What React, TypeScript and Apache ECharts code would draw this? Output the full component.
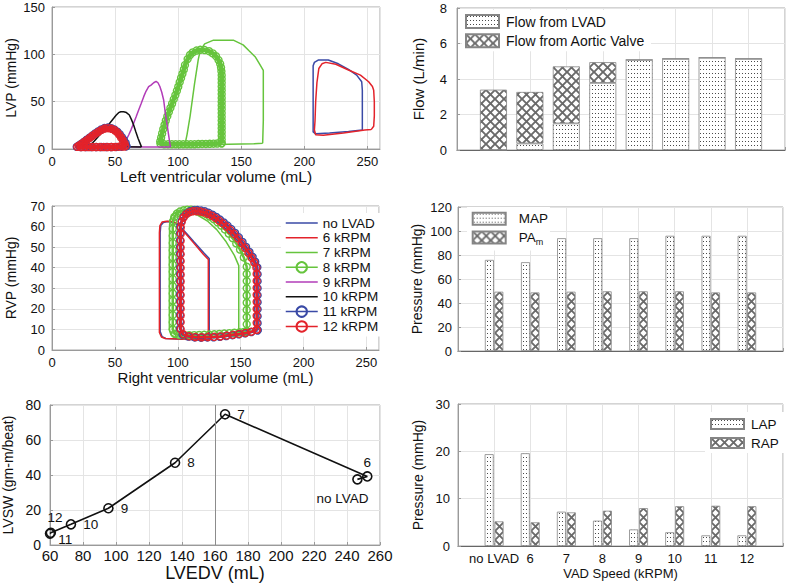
import React, { useEffect, useRef } from 'react';
import * as echarts from 'echarts';

const FONT = "'Liberation Sans', Arial, Helvetica, sans-serif";

// ---------- LV pressure-volume loops (volume mL, pressure mmHg) ----------
const lvNoLvad = [[246,20],[246,35],[246,50],[246,62],[245.5,71],[241.5,78],[235,84],[227,90],[219,94],[211,94],[208,91.5],[207,88],[207,70],[207,50],[207,30],[207,18],[209,16],[220,17],[235,18.5],[246,20]];
const lv6 = [[253,20.5],[255,24],[255.5,35],[255.5,50],[255,62],[254,66],[251,71],[244.5,78],[235,83.5],[225,89.5],[217,91.5],[214,90],[211.5,85],[210,70],[209,50],[208.5,30],[208,20],[209,15],[215,14.5],[231,17],[248,20],[253,20.5]];
const lv7 = [[167,6],[167.5,30],[167.5,60],[167.5,83],[164,91],[161,97.5],[156,104],[151.5,110],[143.7,115],[128,115],[121,111],[117.5,104],[116,95],[113,69],[109.5,35],[107,15],[105.5,5.5],[120,4.5],[140,5],[160,5.5],[167,6]];
const lv8 = [[134.5,6],[134.5,10],[134.5,14],[134.5,18],[134.5,22],[134.5,26],[134.5,30],[134.5,34],[134.5,38],[134.5,42],[134.5,46],[134.5,50],[134.5,54],[134.5,58],[134.5,62],[134.5,66],[134.5,70],[134.5,74],[134.5,78],[134.3,82],[134,86],
  [133.3,90],[132,94],[130,98],[127.5,101],[124.5,103.3],[121,104.5],[117.5,104.8],[114.5,104],[111.5,102],[109.4,99.3],[107.5,95],[105.4,88.7],
  [104.5,84],[103.4,79.5],[102.3,75],[101.2,70.5],[100.1,65.8],[99,61.5],[97.8,57],[96.5,52.5],[95.2,48],[93.9,43.5],[92.6,39],[91.4,34.5],[90.2,30],[89.2,25.5],[88.2,21],[87.3,16.5],[86.5,12],[85.8,8],[86,5.5],
  [89,5],[92,5],[95,5],[98,5],[101,5],[104,5],[107,5],[110,5],[113,5],[116,5.2],[119,5.3],[122,5.4],[125,5.5],[128,5.6],[131,5.8],[134.5,6]];
const lv9 = [[94,2],[93.2,8],[92.3,16],[91.1,27],[89.8,38],[88.5,51.8],[87,60],[85.5,66],[84,70],[82.5,71.5],[80.6,70],[78.5,67.5],[76.6,65.8],[74.5,61],[72.7,55.3],[70.7,48],[68.7,41.2],[66.7,34],[64.7,27.1],[62.7,20.5],[60.8,14.8],[58.1,7.7],[56.8,4],[60,2.5],[75,2],[94,2]];
const lv10 = [[71,2],[69.5,7],[68.2,11.3],[66.5,18],[64.7,25.4],[63,31],[61.3,35.9],[59,38.5],[56.8,39.4],[54.5,39.3],[52.8,38.4],[50.8,35.6],[48.9,32.4],[45.6,27],[42.3,21.8],[38.3,15.5],[34.3,9.5],[31.5,5.5],[30,3],[40,2.5],[55,2.5],[71,2]];
const lv11 = [[59,3],[58.4,6.5],[57,9.5],[55.4,12.6],[53.7,15.6],[51.8,18.3],[49.6,20.5],[47,22],[44.3,22.6],[41.5,22.1],[39,20.6],[36.5,18.6],[34.2,16.5],[31.9,14.2],[29.7,12],[27.5,9.8],[25.3,7.6],[23.1,5.5],[21.1,3.6],[19.6,2.3],[23,2],[27,2],[31,2],[35,2],[39,2],[43,2],[47,2.1],[51,2.2],[55,2.5],[59,3]];
const lv12 = [[58,3],[57.5,6],[56.2,9],[54.8,12],[53.3,15],[51.6,17.6],[49.6,19.8],[47.2,21.3],[44.5,22],[41.8,21.6],[39.3,20.2],[36.8,18.2],[34.5,16.2],[32.2,14],[30,11.8],[27.8,9.6],[25.6,7.4],[23.4,5.3],[21.4,3.5],[20,2.3],[23,2],[26,2],[29,2],[32,2],[35,2],[38,2],[41,2],[44,2],[47,2.1],[50,2.2],[53,2.4],[56,2.6],[58,3]];

// ---------- RV pressure-volume loops ----------
const rvNoLvad = [[125,5],[125,15],[125,30],[125,44.5],[121,47],[113,52.5],[106.5,57],[101,60.5],[97,62],[92,62.5],[88.5,62],[86.5,60.5],[86,57],[86,40],[86,20],[86,9],[87.5,6.5],[90.5,5.6],[105,5.2],[125,5]];
const rv6 = [[124.3,4.9],[124.3,15],[124.3,30],[124.3,44],[120.3,46.5],[112.4,52.2],[106,56.8],[100.4,61],[96,62.5],[91,62.6],[87.5,62.2],[85.8,60.5],[85.4,57],[85.4,40],[85.4,20],[85.4,8.5],[87,6.3],[90,5.6],[105,5.2],[124.3,4.9]];
const rv7 = [[148.5,7],[148.5,15],[148.5,25],[148.5,35],[148.5,41],[145,46],[138,53],[131,58.5],[124,62.5],[116,65.5],[108,67],[101,67.5],[97,66.5],[94.5,64.5],[93.5,61],[93.3,45],[93.3,25],[93.3,10],[94.5,7.5],[97,6.5],[110,6.3],[130,6.6],[148.5,7]];
const rv8 = [[154.8,9],[154.8,12.5],[154.8,16],[154.8,19.5],[154.8,23],[154.8,26.5],[154.8,30],[154.8,33.5],[154.8,37],[154.8,40.5],
  [152.5,45],[149.5,48.8],[146.5,51.8],[143.5,54.4],[140.5,56.6],[137.5,58.6],[134.5,60.5],[131.5,62.1],[128.5,63.6],[125.5,64.9],[122.5,66],[119.5,66.9],[116.5,67.6],[113.5,68],[110.5,68.2],[107.5,68.2],[104.5,67.9],[101.7,67.3],[99.3,66.3],[97.3,64.7],[96.2,62.5],
  [96,59],[96,55.5],[96,52],[96,48.5],[96,45],[96,41.5],[96,38],[96,34.5],[96,31],[96,27.5],[96,24],[96,20.5],[96,17],[96,13.5],[96,10],
  [97.5,7.8],[101,7.3],[105,7.2],[109,7.2],[113,7.2],[117,7.3],[121,7.4],[125,7.5],[129,7.6],[133,7.8],[137,8],[141,8.2],[145,8.4],[149,8.6],[152.5,8.8],[154.8,9]];
const rv11 = [[163.5,9.6],[163.5,13],[163.5,16.4],[163.5,19.8],[163.5,23.2],[163.5,26.6],[163.5,30],[163.5,33.4],[163.5,36.8],[163.3,40.2],
  [161.6,42.9],[159.5,45.3],[157,47.7],[154.3,50.1],[151.5,52.5],[148.6,54.8],[145.6,56.9],[142.6,58.8],[139.6,60.5],[136.6,62],[133.6,63.4],[130.6,64.7],[127.6,65.8],[124.6,66.7],[121.6,67.4],[118.6,67.8],[115.6,68],[112.6,67.9],[109.7,67.4],[107,66.4],[104.8,64.8],[103,62.7],[101.9,60],
  [101.8,56.7],[101.8,53.4],[101.8,50.1],[101.8,46.8],[101.8,43.5],[101.8,40.2],[101.8,36.9],[101.8,33.6],[101.8,30.3],[101.8,27],[101.8,23.7],[101.8,20.4],[101.8,17.1],[101.8,13.8],[101.8,10.5],
  [103.8,7.5],[108.5,6.5],[113.5,6.1],[118.5,6],[123.5,6.1],[128.5,6.2],[133.5,6.4],[138.5,6.8],[143.5,7.2],[148.5,7.6],[153.5,8.1],[158.5,8.7],[163.5,9.6]];
const rv12 = [[162.7,9.8],[162.7,13.2],[162.7,16.6],[162.7,20],[162.7,23.4],[162.7,26.8],[162.7,30.2],[162.7,33.6],[162.7,37],[162.5,40],
  [160.8,42.5],[158.7,44.8],[156.2,47.2],[153.5,49.6],[150.7,52],[147.8,54.3],[144.8,56.4],[141.8,58.3],[138.8,60],[135.8,61.5],[132.8,62.9],[129.8,64.2],[126.8,65.3],[123.8,66.2],[120.8,66.9],[117.8,67.3],[114.8,67.5],[111.8,67.4],[109,66.9],[106.5,65.9],[104.5,64.3],[103.1,62.2],[102.4,59.5],
  [102.3,56.4],[102.3,53.1],[102.3,49.8],[102.3,46.5],[102.3,43.2],[102.3,39.9],[102.3,36.6],[102.3,33.3],[102.3,30],[102.3,26.7],[102.3,23.4],[102.3,20.1],[102.3,16.8],[102.3,13.5],[102.3,10.2],
  [104.5,7.6],[109,6.7],[114,6.3],[119,6.2],[124,6.3],[129,6.4],[134,6.6],[139,7],[144,7.4],[149,7.8],[154,8.3],[158.5,8.9],[162.7,9.8]];
// 9 and 10 kRPM RV loops lie hidden beneath the 11/12 kRPM loops
const rv9 = rv12;
const rv10 = rv12;

// ---------- Bar data ----------
const speedLabels = ['no LVAD', '6', '7', '8', '9', '10', '11', '12'];
const flowLvad = [0, 0.37, 1.5, 3.78, 5.08, 5.14, 5.2, 5.14];
const flowAortic = [3.4, 2.9, 3.21, 1.17, 0, 0, 0, 0];
const mapVals = [75.9, 74, 94, 94, 94, 96, 96, 96];
const paVals = [49.4, 48.8, 49.4, 49.7, 49.7, 49.7, 48.8, 48.8];
const lapVals = [19.4, 19.6, 7.25, 5.35, 3.5, 2.9, 2.25, 2.25];
const rapVals = [5.2, 5.0, 7.1, 7.45, 8.0, 8.4, 8.5, 8.4];

// ---------- LVSW vs LVEDV ----------
const pointNames = ['no LVAD', '6', '7', '8', '9', '10', '11', '12'];
const lvedv = [246.3, 252.3, 166.1, 135.8, 95.4, 72.7, 60.5, 60];
const lvsw = [37.5, 39.2, 74.7, 47, 21, 11.8, 7, 6.5];

const loopNames = ['no LVAD', '6 kRPM', '7 kRPM', '8 kRPM', '9 kRPM', '10 kRPM', '11 kRPM', '12 kRPM'];
const loopColors = ['#3a4aa6', '#e3232b', '#66c43d', '#66c43d', '#b23cb8', '#111111', '#3a4aa6', '#e3232b'];
const loopMarkers = [false, false, false, true, false, false, true, true];
const lvLoops = [lvNoLvad, lv6, lv7, lv8, lv9, lv10, lv11, lv12];
const rvLoops = [rvNoLvad, rv6, rv7, rv8, rv9, rv10, rv11, rv12];

function dotPattern() {
  const c = document.createElement('canvas');
  c.width = 3; c.height = 4;
  const g = c.getContext('2d')!;
  g.fillStyle = '#ffffff'; g.fillRect(0, 0, 3, 4);
  g.fillStyle = '#4a4a4a'; g.fillRect(1, 1, 1, 1);
  return { image: c, repeat: 'repeat' };
}
function hatchPattern() {
  const s = 9;
  const c = document.createElement('canvas');
  c.width = s; c.height = s;
  const g = c.getContext('2d')!;
  g.fillStyle = '#ffffff'; g.fillRect(0, 0, s, s);
  g.strokeStyle = '#6a6a6a'; g.lineWidth = 1.9;
  g.beginPath();
  g.moveTo(-1, -1); g.lineTo(s + 1, s + 1);
  g.moveTo(s + 1, -1); g.lineTo(-1, s + 1);
  g.stroke();
  return { image: c, repeat: 'repeat' };
}

const AX = '#9a9a9a';
const SPLIT = '#e4e4e4';

function valueAxis(gridIndex: number, min: number, max: number, interval: number, name: string, nameGap: number, opts: any = {}) {
  return {
    type: 'value', gridIndex, min, max, interval, name, nameLocation: 'middle', nameGap,
    nameTextStyle: { fontFamily: FONT, fontSize: opts.nameSize || 14, color: '#111' },
    axisLine: { show: true, lineStyle: { color: AX } },
    axisTick: { show: true, inside: true, length: 3, lineStyle: { color: AX } },
    splitLine: { show: true, lineStyle: { color: SPLIT, width: 1 } },
    axisLabel: { fontFamily: FONT, fontSize: opts.labelSize || 13, color: '#111', margin: opts.margin ?? 6, showMaxLabel: opts.showMax ?? true },
  };
}
function catAxis(gridIndex: number, showLabels: boolean, name: string) {
  return {
    type: 'category', gridIndex, data: ['', ...speedLabels, ''], boundaryGap: false,
    name, nameLocation: 'middle', nameGap: 21,
    nameTextStyle: { fontFamily: FONT, fontSize: 13, color: '#111' },
    axisLine: { show: true, lineStyle: { color: '#666', width: 1.2 } },
    axisTick: { show: true, inside: true, length: 3, lineStyle: { color: AX } },
    splitLine: { show: true, interval: 0, lineStyle: { color: SPLIT } },
    axisLabel: { show: showLabels, interval: 0, fontFamily: FONT, fontSize: 13, color: '#111', margin: 6 },
  };
}
const pad = (a: number[]) => ['-', ...a, '-'];

export default function App() {
  const ref = useRef<HTMLDivElement>(null);
  useEffect(() => {
    if (!ref.current) return;
    const chart = echarts.init(ref.current, undefined, { renderer: 'svg' });
    const dots = dotPattern();
    const hatch = hatchPattern();
    const barBorder = { borderColor: '#858585', borderWidth: 0.8 };

    const loopSeries = (axis: number, loops: number[][][], markerLineWidth: number) =>
      loops.map((d, i) => {
        const col = loopColors[i];
        const mk = loopMarkers[i];
        return {
          type: 'line', name: loopNames[i], xAxisIndex: axis, yAxisIndex: axis, data: d,
          symbol: mk ? 'circle' : 'none', showSymbol: mk, symbolSize: 7,
          itemStyle: mk ? { color: 'rgba(255,255,255,0)', borderColor: col, borderWidth: 1.4 } : { color: col },
          lineStyle: { color: col, width: mk ? markerLineWidth : 1.5 }, silent: true, z: 3 + i * 0.01,
        };
      });

    const lvswData = lvedv.map((v, i) => {
      const lab: any = { show: true, formatter: pointNames[i], fontFamily: FONT, fontSize: 13.5, color: '#111' };
      if (pointNames[i] === 'no LVAD') { lab.position = 'bottom'; lab.offset = [-15, 2]; }
      else if (pointNames[i] === '6') { lab.position = 'top'; lab.distance = 2; }
      else if (pointNames[i] === '12') { lab.position = 'top'; lab.distance = 4; lab.offset = [5, 0]; }
      else if (pointNames[i] === '11') { lab.position = 'right'; lab.distance = 2; lab.offset = [0, 7]; }
      else { lab.position = 'right'; lab.distance = 7; }
      return { value: [v, lvsw[i]], label: lab };
    });

    const legendBase = {
      orient: 'vertical', selectedMode: false, backgroundColor: '#ffffff',
      textStyle: { fontFamily: FONT, fontSize: 14, color: '#111' },
    };

    chart.setOption({
      animation: false,
      textStyle: { fontFamily: FONT },
      grid: [
        { left: 52, top: 7, width: 328, height: 142, show: true, borderColor: '#a8a8a8', borderWidth: 1, backgroundColor: '#fff' },
        { left: 457, top: 8, width: 328, height: 142, show: true, borderColor: '#a8a8a8', borderWidth: 1, backgroundColor: '#fff' },
        { left: 52, top: 206, width: 327, height: 144, show: true, borderColor: '#a8a8a8', borderWidth: 1, backgroundColor: '#fff' },
        { left: 458, top: 207, width: 325, height: 144, show: true, borderColor: '#a8a8a8', borderWidth: 1, backgroundColor: '#fff' },
        { left: 50, top: 405, width: 330, height: 140, show: true, borderColor: '#a8a8a8', borderWidth: 1, backgroundColor: '#fff' },
        { left: 458, top: 404, width: 325, height: 142, show: true, borderColor: '#a8a8a8', borderWidth: 1, backgroundColor: '#fff' },
      ],
      xAxis: [
        valueAxis(0, 0, 260, 50, 'Left ventricular volume (mL)', 17, { showMax: false, margin: 6, nameSize: 15.5 }),
        catAxis(1, false, ''),
        valueAxis(2, 0, 260, 50, 'Right ventricular volume (mL)', 17, { showMax: false, margin: 6, nameSize: 15 }),
        catAxis(3, false, ''),
        valueAxis(4, 60, 260, 20, 'LVEDV (mL)', 19, { nameSize: 18, labelSize: 15, margin: 3 }),
        catAxis(5, true, 'VAD Speed (kRPM)'),
      ],
      yAxis: [
        valueAxis(0, 0, 150, 50, 'LVP (mmHg)', 34, { margin: 7 }),
        valueAxis(1, 0, 8, 2, 'Flow (L/min)', 31, { nameSize: 15, margin: 10 }),
        valueAxis(2, 0, 70, 10, 'RVP (mmHg)', 34, { margin: 7 }),
        valueAxis(3, 0, 120, 20, 'Pressure (mmHg)', 34, { margin: 6 }),
        valueAxis(4, 0, 80, 20, 'LVSW (gm-m/beat)', 35, { labelSize: 14, margin: 9 }),
        valueAxis(5, 0, 30, 10, 'Pressure (mmHg)', 33, { margin: 8 }),
      ],
      legend: [
        { ...legendBase, left: 462, top: 10, padding: [4, 6, 3, 3], itemWidth: 33, itemHeight: 13, itemGap: 4.3, icon: 'rect',
          textStyle: { ...legendBase.textStyle, lineHeight: 13, padding: [0, 0, 0, 2] },
          data: ['Flow from LVAD', 'Flow from Aortic Valve'] },
        { ...legendBase, left: 467, top: 207, padding: [4.7, 2, 4, 4.7], itemWidth: 33, itemHeight: 12, itemGap: 4.7, icon: 'rect',
          formatter: (n: string) => (n === 'PAm' ? 'PA{sub|m}' : n),
          textStyle: { ...legendBase.textStyle, fontSize: 13.5, lineHeight: 12, padding: [0, 0, 0, 8],
            rich: { sub: { fontSize: 9, fontFamily: FONT, color: '#111', padding: [9, 0, 0, 0] } } },
          data: ['MAP', 'PAm'] },
        { ...legendBase, left: 705, top: 412, padding: [5, 10, 3, 5], itemWidth: 33, itemHeight: 10, itemGap: 5, icon: 'rect',
          textStyle: { ...legendBase.textStyle, fontSize: 13.5, lineHeight: 10, padding: [0, 0, 0, 2] },
          data: ['LAP', 'RAP'] },
        { ...legendBase, left: 281, top: 213, padding: [3, 4, 3, 4], itemWidth: 32, itemHeight: 13, itemGap: 0.77,
          textStyle: { ...legendBase.textStyle, fontSize: 13.5, lineHeight: 14 },
          data: loopNames.map((n, i) => (loopMarkers[i]
            ? { name: n, lineStyle: { width: 1.5 } }
            : { name: n, itemStyle: { opacity: 0 }, lineStyle: { width: 1.5 } })) },
      ],
      series: [
        ...loopSeries(0, lvLoops, 4.5),
        ...loopSeries(2, rvLoops, 2.5),
        { type: 'bar', name: 'Flow from LVAD', xAxisIndex: 1, yAxisIndex: 1, stack: 'flow', barWidth: 27, data: pad(flowLvad), itemStyle: { color: dots, ...barBorder }, silent: true },
        { type: 'bar', name: 'Flow from Aortic Valve', xAxisIndex: 1, yAxisIndex: 1, stack: 'flow', barWidth: 27, data: pad(flowAortic), itemStyle: { color: hatch, ...barBorder }, silent: true },
        { type: 'bar', name: 'MAP', xAxisIndex: 3, yAxisIndex: 3, barWidth: 9, barGap: '5%', data: pad(mapVals), itemStyle: { color: dots, ...barBorder }, silent: true },
        { type: 'bar', name: 'PAm', xAxisIndex: 3, yAxisIndex: 3, barWidth: 9, barGap: '5%', data: pad(paVals), itemStyle: { color: hatch, ...barBorder }, silent: true },
        { type: 'bar', name: 'LAP', xAxisIndex: 5, yAxisIndex: 5, barWidth: 9, barGap: '10%', data: pad(lapVals), itemStyle: { color: dots, ...barBorder }, silent: true },
        { type: 'bar', name: 'RAP', xAxisIndex: 5, yAxisIndex: 5, barWidth: 9, barGap: '10%', data: pad(rapVals), itemStyle: { color: hatch, ...barBorder }, silent: true },
        { type: 'line', name: 'LVSW', xAxisIndex: 4, yAxisIndex: 4, data: lvswData, symbol: 'circle', symbolSize: 9,
          itemStyle: { color: 'rgba(255,255,255,0)', borderColor: '#111', borderWidth: 1.6 },
          lineStyle: { color: '#111', width: 1.6 }, silent: true, z: 4,
          markLine: { silent: true, symbol: 'none', label: { show: false }, lineStyle: { color: '#8c8c8c', width: 1, type: 'solid' }, data: [{ xAxis: 160 }] } },
      ],
    });
    return () => chart.dispose();
  }, []);
  return <div ref={ref} style={{ position: 'fixed', left: 0, top: 0, width: 790, height: 586, background: '#fff' }} />;
}
